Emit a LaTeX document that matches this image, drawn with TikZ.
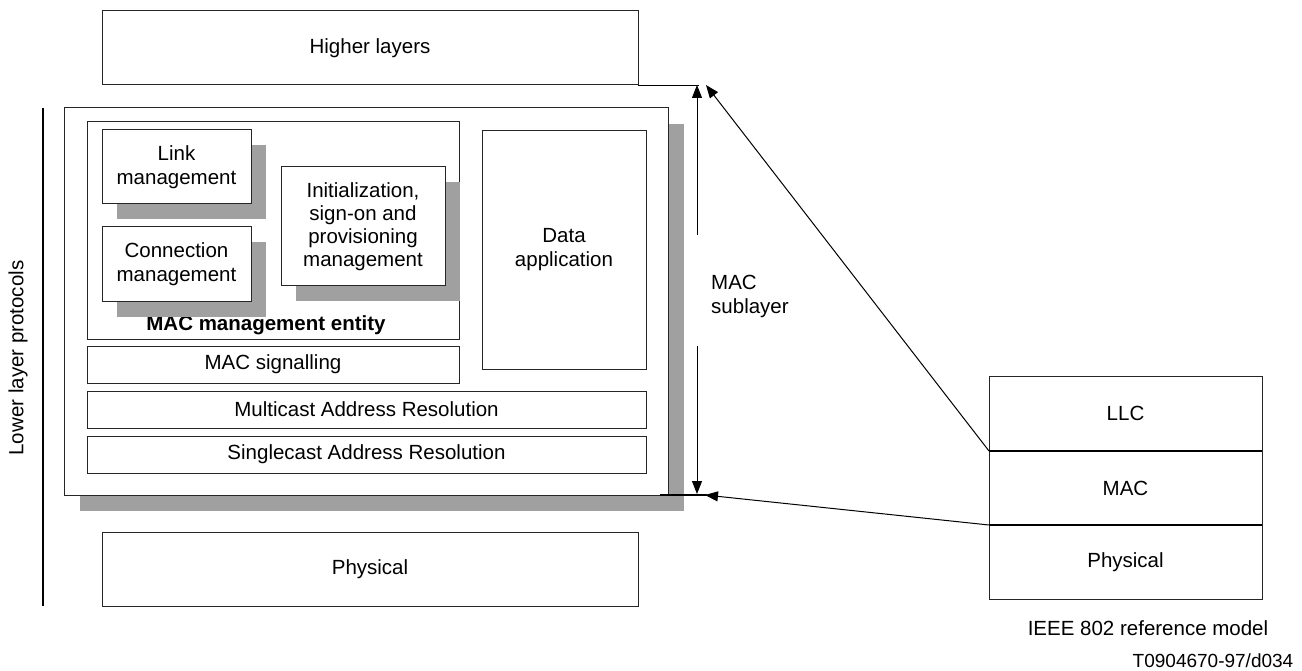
\documentclass[tikz,border=0pt]{standalone}
\usepackage{fontspec}
\setmainfont{Liberation Sans}
\usetikzlibrary{arrows.meta,shadows}
\definecolor{shadowgray}{HTML}{A0A0A0}
\begin{document}
\begin{tikzpicture}[x=1pt,y=-1pt,
  font=\fontsize{20.5}{24}\selectfont,
  box/.style={draw=black!85,line width=1pt,fill=white,inner sep=0pt,outer sep=0pt,align=center},
  shbox/.style={box,drop shadow={shadow xshift=15pt,shadow yshift=-15pt,opacity=1,fill=shadowgray}},
  arr/.style={line width=1pt,-{Triangle[length=13pt,width=10pt]}},
  thick line/.style={line width=2pt}]
\useasboundingbox (0,0) rectangle (1302,671);

% Higher layers
\node[box,minimum width=536pt,minimum height=74pt] (higher) at (370,48) {Higher layers};

% Outer MAC box with shadow
\node[box,minimum width=604pt,minimum height=387pt,
  drop shadow={shadow xshift=16pt,shadow yshift=-16pt,opacity=1,fill=shadowgray}] (outer) at (366,301.5) {};

% MAC management entity
\node[box,minimum width=372pt,minimum height=217pt] (mme) at (273,230.5) {};
\node[font=\fontsize{20.5}{24}\selectfont\bfseries,inner sep=0pt] (mmelabel) at (266,325) {MAC management entity};

\node[shbox,minimum width=149pt,minimum height=74pt] (link) at (176.5,167) {Link\\management};
\node[shbox,minimum width=149pt,minimum height=75pt] (conn) at (176.5,264.5) {Connection\\management};
\node[shbox,minimum width=164pt,minimum height=119pt,font=\fontsize{20.5}{23}\selectfont] (init) at (363,226.5) {Initialization,\\sign-on and\\provisioning\\management};

\node[box,minimum width=164pt,minimum height=238pt] (data) at (564,250) {Data\\application};

\node[box,minimum width=372pt,minimum height=37pt] (sig) at (273,364.5) {MAC signalling};
\node[box,minimum width=559pt,minimum height=37pt] (multi) at (366.5,409.5) {Multicast Address Resolution};
\node[box,minimum width=559pt,minimum height=37pt] (single) at (366.5,454.5) {Singlecast Address Resolution};

% Physical
\node[box,minimum width=536pt,minimum height=74pt] (phys) at (370,569) {Physical};

% Left vertical line and label
\coordinate (lt) at (43,108);
\coordinate (lb) at (43,606);
\draw[line width=1.6pt] (lt) -- (lb);
\node[rotate=90,inner sep=0pt] (lower) at (18,358) {Lower layer protocols};

% MAC sublayer arrows
\coordinate (mtop) at (697,85);
\coordinate (mbot) at (697,494);
\coordinate (mgap1) at (697,235);
\coordinate (mgap2) at (697,346);
\draw (higher.south east) -- ++(61,0);
\draw[line width=1.8pt] (outer.south east) ++(-8,0) -- ++(47,0);
\draw[arr] (mgap1) -- (mtop);
\draw[arr] (mgap2) -- (mbot);
\node[anchor=west,align=left,inner sep=0pt] (sublabel) at (711,296) {MAC\\sublayer};

% IEEE 802 stack
\node[box,minimum width=273pt,minimum height=75pt] (llc) at (1125.5,413.5) {LLC};
\node[box,minimum width=273pt,minimum height=74pt] (imac) at (1125.5,488) {MAC};
\node[box,minimum width=273pt,minimum height=74pt] (iphys) at (1125.5,562) {Physical};
\draw[thick line] (llc.south west) -- (llc.south east);
\draw[thick line] (imac.south west) -- (imac.south east);
\node[inner sep=0pt] (ieee) at (1148,628) {IEEE 802 reference model};
\node[inner sep=0pt,font=\fontsize{19}{22}\selectfont] (code) at (1213,661) {T0904670-97/d034};

% Mapping arrows
\coordinate (ttip) at (706,85);
\coordinate (btip) at (705,495);
\draw[arr] (llc.south west) -- (ttip);
\draw[arr] (imac.south west) -- (btip);
\end{tikzpicture}
\end{document}
